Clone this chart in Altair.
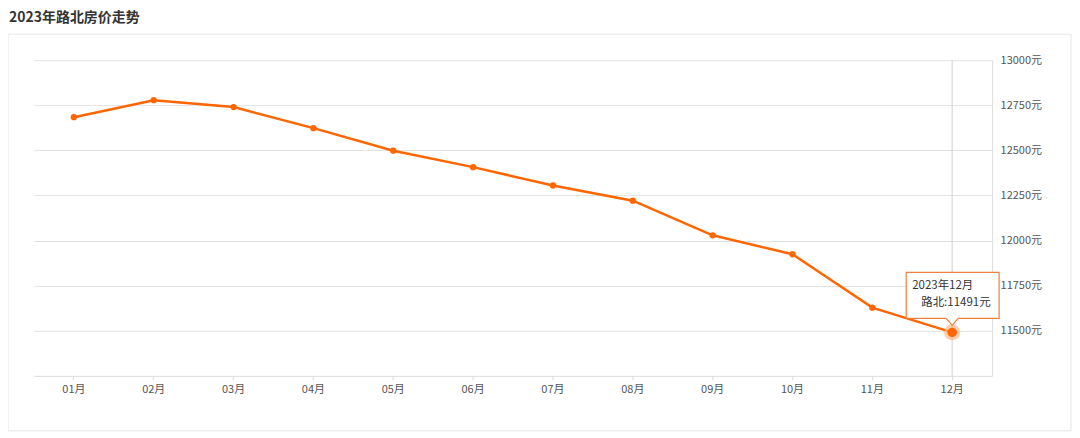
import altair as alt
import pandas as pd

months = ["01月", "02月", "03月", "04月", "05月", "06月", "07月", "08月", "09月", "10月", "11月", "12月"]
prices = [12684, 12778, 12740, 12623, 12498, 12407, 12305, 12221, 12029, 11924, 11628, 11491]
y_ticks = [11500, 11750, 12000, 12250, 12500, 12750, 13000]
title_text = "2023年路北房价走势"
tip_line1 = "2023年12月"
tip_line2 = "路北:11491元"

FONT = "Noto Sans CJK SC"
ORANGE = "#ff6600"

df = pd.DataFrame({"month": months, "price": prices})
last = df.tail(1)

W, H = 959, 316

x_scale = alt.Scale(domain=months, paddingInner=0, paddingOuter=0)
x_enc = alt.X("month:N", sort=months, scale=x_scale,
              axis=alt.Axis(title=None, labelFont=FONT, labelFontSize=11, labelColor="#555",
                            domainColor="#dcdcdc", tickColor="#dcdcdc", tickSize=4, labelPadding=4,
                            labelAngle=0, labelAlign="center", labelBaseline="top", grid=False))
y_scale = alt.Scale(domain=[11250, 13000], nice=False, zero=False)
y_enc = alt.Y("price:Q", scale=y_scale,
              axis=alt.Axis(title=None, orient="right", values=y_ticks, format="d",
                            labelExpr="datum.label + '元'", labelFont=FONT, labelFontSize=11,
                            labelColor="#555", ticks=False, labelPadding=8, domainColor="#dcdcdc",
                            gridColor="#e3e3e3", grid=True))

frame = alt.Chart(df.head(1)).mark_rect(fill="white", fillOpacity=0, stroke="#e6e6e6", strokeWidth=1).encode(
    x=alt.value(-26), x2=alt.value(1038), y=alt.value(-26), y2=alt.value(371)
)

cross = alt.Chart(last).mark_rule(color="#d0d0d0", strokeWidth=1).encode(
    x=x_enc, y=alt.value(0), y2=alt.value(H)
)

line = alt.Chart(df).mark_line(color=ORANGE, strokeWidth=2.5).encode(x=x_enc, y=y_enc)
pts = alt.Chart(df).mark_circle(color=ORANGE, opacity=1, size=40).encode(x=x_enc, y=y_enc)

halo = alt.Chart(last).mark_circle(color="#ffb98a", opacity=0.7, size=260).encode(x=x_enc, y=y_enc)
big = alt.Chart(last).mark_circle(color=ORANGE, opacity=1, size=90).encode(x=x_enc, y=y_enc)

box_path = "M-46,-60 L47,-60 L47,-14 L6,-14 L0,-7 L-6,-14 L-46,-14 Z"
tip_box = alt.Chart(last).mark_point(shape=box_path, size=4, filled=True, fill="white",
                                      stroke="#f08040", strokeWidth=1.2, opacity=1).encode(x=x_enc, y=y_enc)
tip_t1 = alt.Chart(last).mark_text(align="left", baseline="middle", dx=-40, dy=-46, font=FONT,
                                    fontSize=11.5, color="#333").encode(x=x_enc, y=y_enc, text=alt.value(tip_line1))
tip_t2 = alt.Chart(last).mark_text(align="left", baseline="middle", dx=-31, dy=-29, font=FONT,
                                    fontSize=11.5, color="#333").encode(x=x_enc, y=y_enc, text=alt.value(tip_line2))

title = alt.Chart(df.head(1)).mark_text(align="left", baseline="top", font=FONT, fontSize=14,
                                         fontWeight="bold", color="#333").encode(
    x=alt.value(-25), y=alt.value(-49), text=alt.value(title_text)
)

chart = alt.layer(line, cross, pts, halo, big, tip_box, tip_t1, tip_t2, title, frame).properties(
    width=W, height=H,
    background="white",
    autosize=alt.AutoSizeParams(type="none"),
    padding={"left": 26, "top": 52, "right": 80, "bottom": 56},
).configure_view(strokeWidth=0, stroke="transparent")

chart.save("out.html", embed_options={"renderer": "svg", "actions": False})
